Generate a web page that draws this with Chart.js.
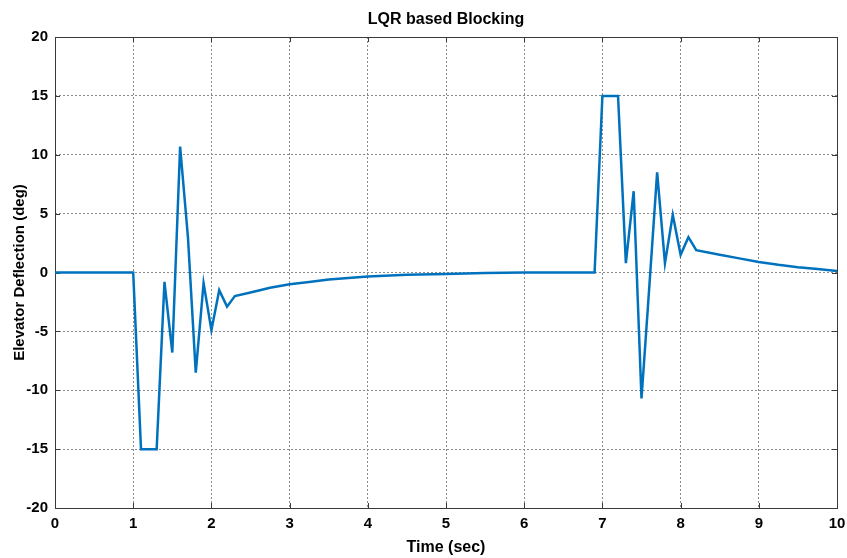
<!DOCTYPE html>
<html>
<head>
<meta charset="utf-8">
<script src="https://cdn.jsdelivr.net/npm/chart.js@4.4.1/dist/chart.umd.min.js"></script>
<style>
    html, body { margin: 0; padding: 0; background: #fff; }
    #wrap { width: 847px; height: 558px; }
</style>
</head>
<body>
<div id="wrap"><canvas id="blockingChart" width="847" height="558"></canvas></div>
<script>
// Elevator deflection response, LQR blocking (time in sec, deflection in deg)
const times = [
    0, 1.0, 1.1, 1.3, 1.4, 1.5, 1.6, 1.7, 1.8, 1.9, 2.0, 2.1, 2.2, 2.3,
    2.5, 2.75, 3.0, 3.25, 3.5, 4.0, 4.5, 5.0, 5.5, 6.0, 6.9,
    7.0, 7.2, 7.3, 7.4, 7.5, 7.6, 7.7, 7.8, 7.9, 8.0, 8.1, 8.2,
    8.5, 8.75, 9.0, 9.25, 9.5, 9.75, 10.0,
];
const deflection = [
    0, 0, -15, -15, -0.8, -6.8, 10.7, 3.0, -8.5, -0.9, -4.9, -1.5, -2.9, -2.0,
    -1.7, -1.3, -1.0, -0.8, -0.6, -0.35, -0.2, -0.12, -0.05, 0, 0,
    15, 15, 0.8, 6.9, -10.7, -1.2, 8.5, 0.8, 4.9, 1.5, 3.0, 1.9,
    1.5, 1.2, 0.9, 0.65, 0.45, 0.3, 0.12,
];
const xTicks = [0, 1, 2, 3, 4, 5, 6, 7, 8, 9, 10];
const yTicks = [-20, -15, -10, -5, 0, 5, 10, 15, 20];
const chartTitle = "LQR based Blocking";

const narrowFont = "'Liberation Sans Narrow', 'Arial Narrow', 'Liberation Sans', Arial, sans-serif";

// Title centred over the plot area (not the whole canvas)
const plotTitle = {
    id: "plotTitle",
    afterDraw(chart) {
        const { ctx, chartArea: a } = chart;
        ctx.save();
        ctx.fillStyle = "#000";
        ctx.font = "bold 16px " + narrowFont;
        ctx.textAlign = "center";
        ctx.textBaseline = "middle";
        ctx.fillText(chartTitle, (a.left + a.right) / 2, 20);
        ctx.restore();
    },
};

// Solid frame round the plot plus small inward tick marks
const frameBox = {
    id: "frameBox",
    beforeDatasetsDraw(chart) {
        const { ctx, chartArea: a, scales } = chart;
        ctx.save();
        ctx.strokeStyle = "#3a3a3a";
        ctx.lineWidth = 1;
        ctx.beginPath();
        scales.x.ticks.forEach((t) => {
            const px = Math.round(scales.x.getPixelForValue(t.value)) + 0.5;
            ctx.moveTo(px, a.bottom);
            ctx.lineTo(px, a.bottom - 5);
            ctx.moveTo(px, a.top);
            ctx.lineTo(px, a.top + 5);
        });
        scales.y.ticks.forEach((t) => {
            const py = Math.round(scales.y.getPixelForValue(t.value)) + 0.5;
            ctx.moveTo(a.left, py);
            ctx.lineTo(a.left + 5, py);
            ctx.moveTo(a.right, py);
            ctx.lineTo(a.right - 5, py);
        });
        ctx.stroke();
        ctx.strokeRect(Math.round(a.left) + 0.5, Math.round(a.top) + 0.5,
            Math.round(a.right - a.left), Math.round(a.bottom - a.top));
        ctx.restore();
    },
};

function fixBox(size, prop) {
    return (scale) => {
        scale[prop] = size;
        scale.paddingTop = 0;
        scale.paddingBottom = 0;
        scale.paddingLeft = 0;
        scale.paddingRight = 0;
    };
}

new Chart(document.getElementById("blockingChart"), {
    type: "line",
    data: {
        datasets: [
            {
                data: times.map((t, i) => ({ x: t, y: deflection[i] })),
                borderColor: "#0072BD",
                borderWidth: 2.5,
                pointRadius: 0,
                tension: 0,
                fill: false,
            },
        ],
    },
    options: {
        responsive: false,
        animation: false,
        layout: { padding: { top: 37, right: 10, bottom: 0, left: 0 } },
        plugins: {
            legend: { display: false },
            tooltip: { enabled: false },
            title: { display: false },
        },
        scales: {
            x: {
                type: "linear",
                min: xTicks[0],
                max: xTicks[xTicks.length - 1],
                afterBuildTicks: (scale) => {
                    scale.ticks = xTicks.map((v) => ({ value: v }));
                },
                afterFit: fixBox(50, "height"),
                border: { display: false, dash: [2, 2] },
                grid: { color: "#8a8a8a", lineWidth: 1, drawTicks: false },
                ticks: {
                    color: "#000",
                    padding: 7,
                    maxRotation: 0,
                    font: { family: narrowFont, size: 15, weight: "bold" },
                },
                title: {
                    display: true,
                    text: "Time (sec)",
                    color: "#000",
                    font: { family: narrowFont, size: 16, weight: "bold" },
                    padding: { top: 0, bottom: 1 },
                },
            },
            y: {
                type: "linear",
                min: yTicks[0],
                max: yTicks[yTicks.length - 1],
                afterBuildTicks: (scale) => {
                    scale.ticks = yTicks.map((v) => ({ value: v }));
                },
                afterFit: fixBox(55, "width"),
                border: { display: false, dash: [2, 2] },
                grid: { color: "#8a8a8a", lineWidth: 1, drawTicks: false },
                ticks: {
                    color: "#000",
                    padding: 7,
                    font: { family: narrowFont, size: 15, weight: "bold" },
                },
                title: {
                    display: true,
                    text: "Elevator Deflection (deg)",
                    color: "#000",
                    font: { family: "'Liberation Sans', Arial, sans-serif", size: 15, weight: "bold" },
                    padding: { top: 11, bottom: 0 },
                },
            },
        },
    },
    plugins: [frameBox, plotTitle],
});
</script>
</body>
</html>
